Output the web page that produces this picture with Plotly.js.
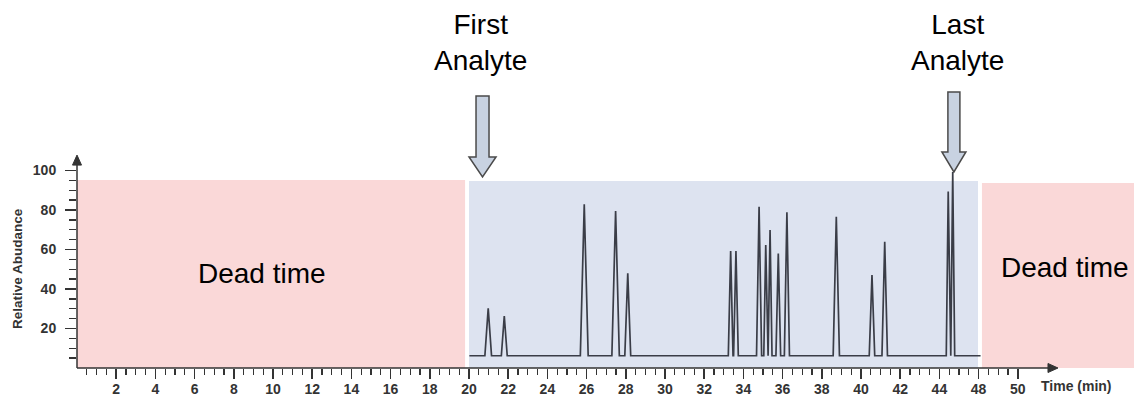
<!DOCTYPE html>
<html>
<head>
<meta charset="utf-8">
<script src="https://cdn.plot.ly/plotly-3.0.1.min.js"></script>
<style>
  html, body { margin: 0; padding: 0; background: #fff; }
  #chart { width: 1134px; height: 398px; }
</style>
</head>
<body>
<div id="chart"></div>
<script>
// ---- Data ----
const peakTimes   = [20.98, 21.80, 25.88, 27.48, 28.10, 33.35, 33.62, 34.80, 35.14, 35.36, 35.78, 36.22, 38.74, 40.56, 41.21, 44.45, 44.68];
const peakHeights = [30.2, 26.3, 82.9, 79.5, 47.9, 59.2, 59.2, 81.7, 62.3, 69.9, 58.0, 78.8, 76.6, 47.1, 63.9, 89.3, 99.2];
const peakHalfWidths = [0.17, 0.15, 0.20, 0.19, 0.15, 0.12, 0.12, 0.13, 0.10, 0.10, 0.12, 0.13, 0.16, 0.14, 0.14, 0.10, 0.10];
const baselineLevel = 6.2;
const runStart = 20.02;
const runEnd = 46.1;

const deadTimeLeft  = [0, 19.8];
const analyteWindow = [20.0, 45.97];
const deadTimeRight = [46.17, 60];
const regionTops = [95.2, 94.7, 93.7];

const xTickVals   = [2,4,6,8,10,12,14,16,18,20,22,24,26,28,30,32,34,36,38,40,42,44,46,48];
const xTickLabels = ["2","4","6","8","10","12","14","16","18","20","22","24","26","28","30","32","34","36","38","40","42","44","48","50"];
const yTickVals   = [20,40,60,80,100];
const yTickLabels = ["20","40","60","80","100"];

const arrowX = [20.69, 44.74];            // First / Last analyte markers
const arrowLabels = ["First<br>Analyte", "Last<br>Analyte"];
const arrowLabelX = [20.59, 44.9];

// ---- Geometry ----
const ML = 77, MR = 0, MT = 150, MB = 30, WIDTH = 1134, HEIGHT = 398;
const plotW = WIDTH - ML - MR, plotH = HEIGHT - MT - MB;
const pxPerX = 19.6, pxPerY = 1.975;
const xMax = plotW / pxPerX, yMax = plotH / pxPerY;
const dx = p => p / pxPerX;                  // pixels -> x data units
const pyPaper = ypix => (HEIGHT - MB - ypix) / plotH;  // absolute pixel y -> paper y
const pxPaperX = p => p / plotW;

// ---- Chromatogram built from peak table ----
const cx = [runStart], cy = [baselineLevel];
for (let i = 0; i < peakTimes.length; i++) {
  cx.push(peakTimes[i] - peakHalfWidths[i], peakTimes[i], peakTimes[i] + peakHalfWidths[i]);
  cy.push(baselineLevel, peakHeights[i], baselineLevel);
}
cx.push(runEnd); cy.push(baselineLevel);

const trace = {
  x: cx, y: cy, type: 'scatter', mode: 'lines',
  line: { color: '#3a3d47', width: 1.7 },
  hoverinfo: 'skip', showlegend: false
};

// minor ticks
const xMinor = [];
for (let v = 0; v <= 48.001; v += 0.5) { if (Math.abs(v % 2) > 1e-6) xMinor.push(v); }
const yMinor = [];
for (let v = 5; v <= 95.001; v += 5) { if (v % 20 !== 0) yMinor.push(v); }

const axisColor = '#333333';
const shapes = [
  { type: 'rect', xref: 'x', yref: 'y', x0: deadTimeLeft[0], x1: deadTimeLeft[1], y0: 0, y1: regionTops[0],
    fillcolor: 'rgb(250,216,216)', line: { width: 0 }, layer: 'below' },
  { type: 'rect', xref: 'x', yref: 'y', x0: analyteWindow[0], x1: analyteWindow[1], y0: 0, y1: regionTops[1],
    fillcolor: 'rgb(221,227,240)', line: { width: 0 }, layer: 'below' },
  { type: 'rect', xref: 'x', yref: 'y', x0: deadTimeRight[0], x1: deadTimeRight[1], y0: 0, y1: regionTops[2],
    fillcolor: 'rgb(250,216,216)', line: { width: 0 }, layer: 'below' },
  // x axis line + arrowhead
  { type: 'line', xref: 'x', yref: 'paper', x0: 0, x1: 50.05 - dx(6), y0: 0, y1: 0,
    line: { color: axisColor, width: 1.5 }, layer: 'above' },
  { type: 'path', xref: 'x', yref: 'paper',
    path: `M ${50.05 - dx(10)} ${pyPaper(368 - 4.5)} L ${50.05} 0 L ${50.05 - dx(10)} ${pyPaper(368 + 4.5)} Z`,
    fillcolor: axisColor, line: { color: axisColor, width: 1 }, layer: 'above' },
  // y axis line + arrowhead
  { type: 'line', xref: 'paper', yref: 'y', x0: 0, x1: 0, y0: 0, y1: 107.8 - 6 / pxPerY,
    line: { color: axisColor, width: 1.5 }, layer: 'above' },
  { type: 'path', xref: 'paper', yref: 'y',
    path: `M ${pxPaperX(-4.5)} ${107.8 - 10 / pxPerY} L 0 107.8 L ${pxPaperX(4.5)} ${107.8 - 10 / pxPerY} Z`,
    fillcolor: axisColor, line: { color: axisColor, width: 1 }, layer: 'above' }
];

// big block arrows for first / last analyte
const arrowGeom = [
  { top: 96, base: 157, tip: 177, sw: 6.5, hw: 13.5 },
  { top: 92, base: 152, tip: 172, sw: 6, hw: 12 }
];
arrowX.forEach((ax, i) => {
  const g = arrowGeom[i];
  const p = [
    [ax - dx(g.sw), pyPaper(g.top)], [ax + dx(g.sw), pyPaper(g.top)],
    [ax + dx(g.sw), pyPaper(g.base)], [ax + dx(g.hw), pyPaper(g.base)],
    [ax, pyPaper(g.tip)], [ax - dx(g.hw), pyPaper(g.base)],
    [ax - dx(g.sw), pyPaper(g.base)]
  ];
  shapes.push({
    type: 'path', xref: 'x', yref: 'paper',
    path: 'M ' + p.map(q => q[0] + ' ' + q[1]).join(' L ') + ' Z',
    fillcolor: 'rgb(200,210,225)', line: { color: '#4a4a4a', width: 1.5 }, layer: 'above'
  });
});

const bigFont = { family: 'Liberation Sans, Arial, sans-serif', size: 28, color: '#000' };
const annotations = [
  { text: 'Dead time', x: 9.44, y: 48, xref: 'x', yref: 'y', showarrow: false, font: bigFont },
  { text: 'Dead time', x: 50.4, y: 51.1, xref: 'x', yref: 'y', showarrow: false, font: bigFont },
  { text: 'Time (min)', x: 51.0, y: pyPaper(386), xref: 'x', yref: 'paper', showarrow: false,
    xanchor: 'center', yanchor: 'middle',
    font: { family: 'Liberation Sans, Arial, sans-serif', size: 14, color: '#333', weight: 'bold' } },
  { text: 'Relative Abudance', x: pxPaperX(17 - ML), y: pyPaper(268), xref: 'paper', yref: 'paper',
    showarrow: false, textangle: -90, xanchor: 'center', yanchor: 'middle',
    font: { family: 'Liberation Sans, Arial, sans-serif', size: 13.5, color: '#333', weight: 'bold' } }
];
arrowLabels.forEach((t, i) => {
  annotations.push({ text: t, x: arrowLabelX[i], y: pyPaper(42), xref: 'x', yref: 'paper',
    showarrow: false, xanchor: 'center', yanchor: 'middle', font: bigFont });
});

const tickFont = { family: 'Liberation Sans, Arial, sans-serif', size: 14, color: '#333', weight: 'bold' };
const layout = {
  width: WIDTH, height: HEIGHT,
  margin: { l: ML, r: MR, t: MT, b: MB, pad: 0 },
  paper_bgcolor: '#fff', plot_bgcolor: 'rgba(0,0,0,0)',
  showlegend: false,
  xaxis: {
    range: [0, xMax], showgrid: false, zeroline: false, showline: false,
    tickmode: 'array', tickvals: xTickVals, ticktext: xTickLabels,
    ticks: 'outside', ticklen: 10, tickwidth: 1.5, tickcolor: axisColor,
    tickfont: tickFont, ticklabelstandoff: -2,
    minor: { tickmode: 'array', tickvals: xMinor, ticks: 'outside', ticklen: 6, tickwidth: 1.3, tickcolor: axisColor, showgrid: false },
    fixedrange: true
  },
  yaxis: {
    range: [0, yMax], showgrid: false, zeroline: false, showline: false,
    tickmode: 'array', tickvals: yTickVals, ticktext: yTickLabels,
    ticks: 'outside', ticklen: 11, tickwidth: 1.5, tickcolor: axisColor,
    tickfont: tickFont, ticklabelstandoff: 6,
    minor: { tickmode: 'array', tickvals: yMinor, ticks: 'outside', ticklen: 7, tickwidth: 1.3, tickcolor: axisColor, showgrid: false },
    fixedrange: true
  },
  shapes: shapes,
  annotations: annotations
};

Plotly.newPlot('chart', [trace], layout, { displayModeBar: false, staticPlot: true });
</script>
</body>
</html>
